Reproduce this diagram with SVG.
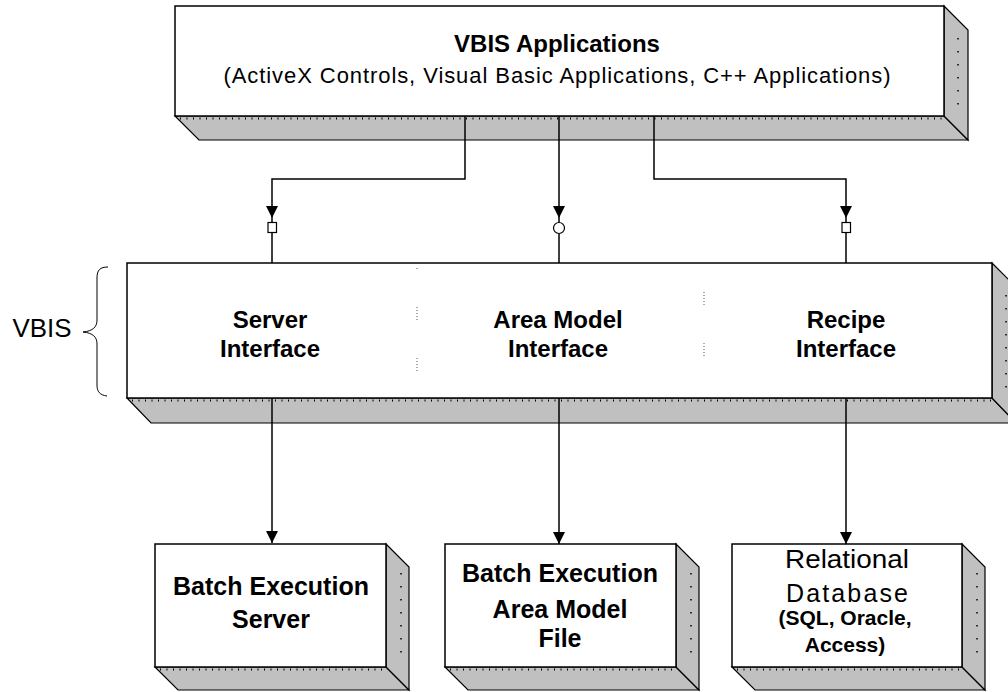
<svg xmlns="http://www.w3.org/2000/svg" width="1008" height="692" viewBox="0 0 1008 692">
<style>
  .front { fill: #ffffff; stroke: #000; stroke-width: 1.5; }
  .shade { fill: #c0c0c0; stroke: #000; stroke-width: 1.2; stroke-linejoin: miter; }
  .ticks { fill: none; stroke: #000; stroke-width: 2; stroke-dasharray: 1 5.5; }
  .sdots { fill: none; stroke: #000; stroke-width: 1.5; stroke-dasharray: 1.5 11.5; }
  .sep { fill: none; stroke: #555; stroke-width: 1; stroke-dasharray: 1 2; }
  .wire { fill: none; stroke: #000; stroke-width: 1.5; }
  .b { font-family: "Liberation Sans", Arial, sans-serif; font-weight: bold; fill: #000; text-anchor: middle; }
  .r { font-family: "Liberation Sans", Arial, sans-serif; font-weight: normal; fill: #000; text-anchor: middle; }
  .port { fill: #fff; stroke: #000; stroke-width: 1.2; }
</style>
<defs>
  <marker id="arrow" markerWidth="12" markerHeight="12" refX="12" refY="6" orient="auto" markerUnits="userSpaceOnUse" viewBox="0 0 12 12">
    <path d="M0,0 L12,6 L0,12 Z" fill="#000"/>
  </marker>
</defs>

<!-- Top node -->
<g id="vbis-applications">
  <polygon class="shade" points="175,116 199,140 968,140 944,116"/>
  <polygon class="shade" points="944,6 968,30 968,140 944,116"/>
  <line class="ticks" x1="180" y1="118.5" x2="944" y2="118.5"/>
  <line class="sdots" x1="958" y1="38" x2="958" y2="112"/>
  <rect class="front" x="175" y="6" width="769" height="110"/>
  <text class="b" x="557" y="52" font-size="24">VBIS Applications</text>
  <text class="r" x="557" y="83" font-size="22" textLength="667" lengthAdjust="spacing">(ActiveX Controls, Visual Basic Applications, C++ Applications)</text>
</g>

<!-- VBIS brace label -->
<g id="vbis-label">
  <text class="r" x="42" y="337" font-size="25" textLength="59" lengthAdjust="spacingAndGlyphs">VBIS</text>
  <path d="M108,267 C100,267 97,270 97,278 L97,320 C97,327 93,331 83,332 C93,333 97,337 97,344 L97,385 C97,392 100,395 107,396" fill="none" stroke="#000" stroke-width="1"/>
</g>

<!-- Middle node -->
<g id="vbis-interfaces">
  <polygon class="shade" points="127,398 151,423 1016,423 992,398"/>
  <polygon class="shade" points="992,263 1016,287 1016,423 992,398"/>
  <line class="ticks" x1="132" y1="400.5" x2="992" y2="400.5"/>
  <line class="sdots" x1="1006" y1="295" x2="1006" y2="395"/>
  <rect class="front" x="127" y="263" width="865" height="135"/>
  <line class="sep" x1="417" y1="268" x2="417" y2="270"/>
  <line class="sep" x1="417" y1="307" x2="417" y2="322"/>
  <line class="sep" x1="417" y1="358" x2="417" y2="373"/>
  <line class="sep" x1="704" y1="292" x2="704" y2="305"/>
  <line class="sep" x1="704" y1="343" x2="704" y2="357"/>
  <text class="b" x="270" y="328" font-size="24">Server</text>
  <text class="b" x="270" y="357" font-size="24">Interface</text>
  <text class="b" x="558" y="328" font-size="24">Area Model</text>
  <text class="b" x="558" y="357" font-size="24">Interface</text>
  <text class="b" x="846" y="328" font-size="24">Recipe</text>
  <text class="b" x="846" y="357" font-size="24">Interface</text>
</g>

<!-- Bottom nodes -->
<g id="batch-execution-server">
  <polygon class="shade" points="155,667 178,690 409,690 386,667"/>
  <polygon class="shade" points="386,544 409,567 409,690 386,667"/>
  <line class="ticks" x1="160" y1="669.5" x2="386" y2="669.5"/>
  <line class="sdots" x1="401" y1="573" x2="401" y2="655"/>
  <rect class="front" x="155" y="544" width="231" height="123"/>
  <text class="b" x="271" y="595" font-size="25">Batch Execution</text>
  <text class="b" x="271" y="628" font-size="25">Server</text>
</g>

<g id="batch-execution-area-model-file">
  <polygon class="shade" points="445,667 468,690 699,690 676,667"/>
  <polygon class="shade" points="676,544 699,567 699,690 676,667"/>
  <line class="ticks" x1="450" y1="669.5" x2="676" y2="669.5"/>
  <line class="sdots" x1="691" y1="573" x2="691" y2="655"/>
  <rect class="front" x="445" y="544" width="231" height="123"/>
  <text class="b" x="560" y="582" font-size="25">Batch Execution</text>
  <text class="b" x="560" y="618" font-size="25">Area Model</text>
  <text class="b" x="560" y="647" font-size="25">File</text>
</g>

<g id="relational-database">
  <polygon class="shade" points="732,667 755,690 985,690 962,667"/>
  <polygon class="shade" points="962,544 985,567 985,690 962,667"/>
  <line class="ticks" x1="737" y1="669.5" x2="962" y2="669.5"/>
  <line class="sdots" x1="977" y1="573" x2="977" y2="655"/>
  <rect class="front" x="732" y="544" width="230" height="123"/>
  <text class="r" x="847" y="568" font-size="25" textLength="124" lengthAdjust="spacingAndGlyphs">Relational</text>
  <text class="r" x="847" y="602" font-size="25" textLength="122" lengthAdjust="spacing">Database</text>
  <text class="b" x="845" y="625" font-size="21">(SQL, Oracle,</text>
  <text class="b" x="845" y="652" font-size="21">Access)</text>
</g>

<!-- Connectors -->
<g id="connectors">
  <path class="wire" d="M465,116 V179 H272 V218" marker-end="url(#arrow)"/>
  <path class="wire" d="M272,218 V222 M272,233 V263"/>
  <rect class="port" x="268" y="222.5" width="8.5" height="10"/>

  <path class="wire" d="M559,116 V218" marker-end="url(#arrow)"/>
  <path class="wire" d="M559,218 V222 M559,234 V263"/>
  <circle class="port" cx="559" cy="228" r="5.5"/>

  <path class="wire" d="M654,116 V179 H846 V218" marker-end="url(#arrow)"/>
  <path class="wire" d="M846,218 V222 M846,233 V263"/>
  <rect class="port" x="842" y="222.5" width="8.5" height="10"/>

  <path class="wire" d="M272,398 V543" marker-end="url(#arrow)"/>
  <path class="wire" d="M559,398 V544" marker-end="url(#arrow)"/>
  <path class="wire" d="M846,398 V544" marker-end="url(#arrow)"/>
</g>
</svg>
